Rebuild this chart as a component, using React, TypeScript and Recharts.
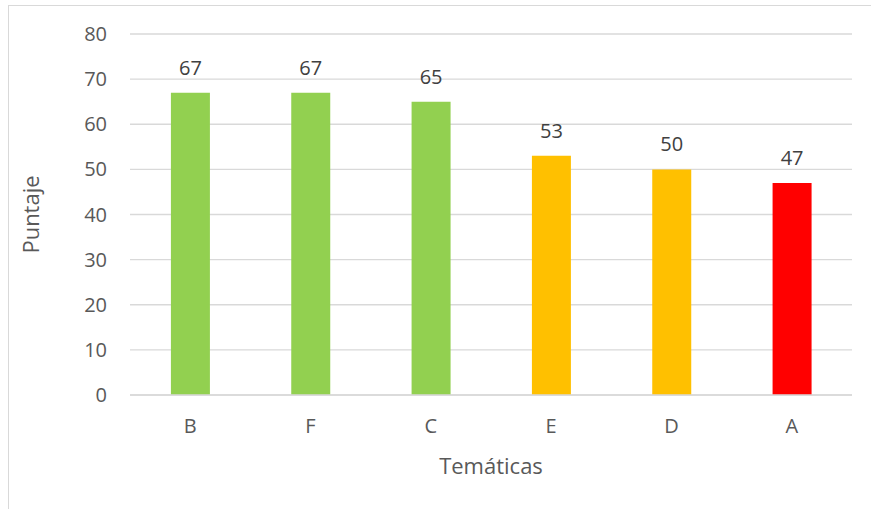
import { Bar, BarChart, CartesianGrid, Cell, LabelList, XAxis, YAxis } from "recharts";

const categories = ["B", "F", "C", "E", "D", "A"];
const scores = [67, 67, 65, 53, 50, 47];
const barColors = ["#92D050", "#92D050", "#92D050", "#FFC000", "#FFC000", "#FF0000"];
const yTicks = [0, 10, 20, 30, 40, 50, 60, 70, 80];

const data = categories.map((name, i) => ({ name, score: scores[i] }));

const font = "'Open Sans', 'Liberation Sans', sans-serif";

export default function App() {
  return (
    <div style={{ position: "absolute", left: 0, top: 0, width: 871, height: 509, background: "#fff" }}>
      <div
        style={{
          position: "absolute",
          left: 8,
          top: 5,
          width: 880,
          height: 520,
          border: "1px solid #d9d9d9",
          boxSizing: "border-box",
        }}
      />
      <div style={{ position: "absolute", left: 0, top: 0 }}>
        <BarChart
          width={871}
          height={509}
          data={data}
          margin={{ top: 34, right: 19, bottom: 0, left: 70 }}
          barCategoryGap="34%"
        >
          <CartesianGrid vertical={false} stroke="#d9d9d9" strokeWidth={1.3} />
          <XAxis
            dataKey="name"
            height={114}
            axisLine={{ stroke: "#d9d9d9", strokeWidth: 1.3 }}
            tickLine={false}
            tickSize={0}
            tickMargin={24}
            tick={{ fill: "#595959", fontSize: 20, fontFamily: font }}
            label={{
              value: "Temáticas",
              position: "insideTop",
              dy: 58,
              fill: "#595959",
              fontSize: 22,
              fontFamily: font,
            }}
          />
          <YAxis
            width={60}
            domain={[0, 80]}
            ticks={yTicks}
            axisLine={false}
            tickLine={false}
            tickSize={0}
            tickMargin={23}
            tick={{ fill: "#595959", fontSize: 20, fontFamily: font }}
            label={{
              value: "Puntaje",
              angle: -90,
              position: "insideLeft",
              dx: -44,
              fill: "#595959",
              fontSize: 22,
              fontFamily: font,
              style: { textAnchor: "middle" },
            }}
          />
          <Bar dataKey="score" isAnimationActive={false}>
            {data.map((d, i) => (
              <Cell key={d.name} fill={barColors[i]} />
            ))}
            <LabelList
              dataKey="score"
              position="top"
              offset={18}
              fill="#404040"
              fontSize={20}
              fontFamily={font}
            />
          </Bar>
        </BarChart>
      </div>
    </div>
  );
}
